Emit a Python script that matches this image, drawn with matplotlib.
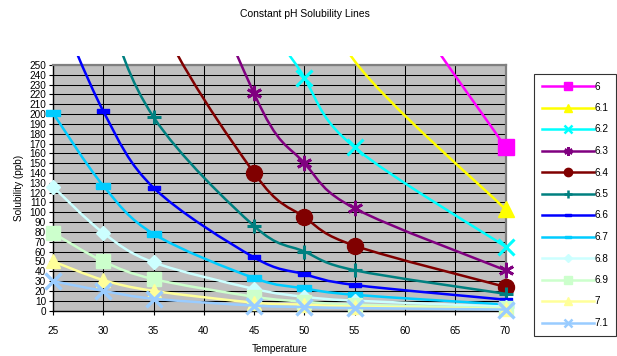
import numpy as np
import matplotlib
matplotlib.use("Agg")
import matplotlib.pyplot as plt
from matplotlib.path import Path
from matplotlib.patches import PathPatch, Rectangle
from matplotlib.lines import Line2D

plt.rcParams['font.family'] = ['Liberation Sans', 'DejaVu Sans']

temps = [25, 30, 35, 45, 50, 55, 70]
ph_labels = ["6", "6.1", "6.2", "6.3", "6.4", "6.5", "6.6", "6.7", "6.8", "6.9", "7", "7.1"]

# solubility (ppb); values above 250 are off the plot
sol_60 = [3200, 2000, 1250, 880, 590, 400, 166]
sol_61 = [2000, 1280, 780, 557, 376, 254, 103]
sol_62 = [2000, 1280, 780, 350, 237, 166, 65]
sol_63 = [1260, 810, 490, 221, 150, 104, 41]
sol_64 = [800, 510, 310, 140, 95, 66, 24]
sol_65 = [510, 320, 197, 86, 60, 41, 17]
sol_66 = [320, 203, 125, 54, 37, 26, 11]
sol_67 = [201, 127, 78, 33, 22.5, 16, 6]
sol_68 = [126, 79, 49, 22, 14, 10, 4]
sol_69 = [79, 50, 32, 14, 9, 6, 2.5]
sol_70 = [50, 31, 20, 8, 6, 4, 1.5]
sol_71 = [30, 20, 12, 5, 3.5, 2.5, 1]
series = [sol_60, sol_61, sol_62, sol_63, sol_64, sol_65,
          sol_66, sol_67, sol_68, sol_69, sol_70, sol_71]

colors = ["#FF00FF", "#FFFF00", "#00FFFF", "#800080", "#800000", "#008080",
          "#0000FF", "#00CCFF", "#CCFFFF", "#CCFFCC", "#FFFF99", "#99CCFF"]

bar = [(-1, -0.38), (1, -0.38), (1, 0.38), (-1, 0.38), (-1, -0.38)]
markers = ["s", "^", "x", (6, 2, 0), "o", "+", bar, bar, "D", "s", "^", "x"]
msizes = [12, 12, 11, 11, 11.5, 10, 9, 9.5, 7.3, 10, 10, 11]
mews = [1, 1, 2.2, 2, 1, 2.2, 1, 1, 1, 1, 1, 2.4]
leg_ms = [6, 6, 6, 6, 6, 6, 5, 5, 4.5, 6, 6, 6]


def smooth_path(x, y):
    # excel-style smoothed line as cubic bezier segments
    pts = np.column_stack([x, y]).astype(float)
    n = len(pts)
    verts = [pts[0]]
    codes = [Path.MOVETO]
    for i in range(n - 1):
        p0 = pts[max(i - 1, 0)]
        p1 = pts[i]
        p2 = pts[i + 1]
        p3 = pts[min(i + 2, n - 1)]
        c1 = p1 + (p2 - p0) / 6.0
        c2 = p2 - (p3 - p1) / 6.0
        verts += [c1, c2, p2]
        codes += [Path.CURVE4] * 3
    return Path(verts, codes)


fig = plt.figure(figsize=(6.17, 3.56), dpi=100)
ax = fig.add_axes([0.0859, 0.1278, 0.7334, 0.6896])
ax.set_facecolor("#C0C0C0")
ax.set_xlim(25, 70)
ax.set_ylim(0, 250)

clip = Rectangle((-0.02, -0.05), 1.04, 1.085, transform=ax.transAxes,
                 facecolor="none", edgecolor="none")

handles = []
for i, vals in enumerate(series):
    patch = PathPatch(smooth_path(temps, vals), facecolor="none",
                      edgecolor=colors[i], lw=1.8, zorder=3 + i * 0.01)
    ax.add_patch(patch)
    patch.set_clip_path(clip)
    xs = [t for t, v in zip(temps, vals) if v <= 250]
    ys = [v for v in vals if v <= 250]
    ax.plot(xs, ys, ls="none", marker=markers[i], ms=msizes[i],
            color=colors[i], mfc=colors[i], mec=colors[i], mew=mews[i],
            clip_on=False, zorder=3 + i * 0.01 + 0.005)
    handles.append(Line2D([], [], color=colors[i], lw=1.8, marker=markers[i],
                          ms=leg_ms[i], mew=min(mews[i], 1.8),
                          mfc=colors[i], mec=colors[i], label=ph_labels[i]))

ax.set_xticks(range(25, 71, 5))
ax.set_yticks(range(0, 251, 10))
ax.grid(True, color="black", lw=0.75)
ax.set_axisbelow(True)
ax.tick_params(axis="both", labelsize=7.2, direction="out", length=3,
               width=0.8, color="black", pad=2)
ax.tick_params(axis="x", pad=8)
for s in ["top", "right"]:
    ax.spines[s].set_color("#808080")
    ax.spines[s].set_linewidth(1.6)
for s in ["left", "bottom"]:
    ax.spines[s].set_color("black")
    ax.spines[s].set_linewidth(1)

ax.set_xlabel("Temperature", fontsize=7.2, labelpad=6)
ax.set_ylabel("Solubility (ppb)", fontsize=7.2, labelpad=4)
fig.text(0.495, 0.962, "Constant pH Solubility Lines", fontsize=7.5,
         ha="center", va="center")

leg = fig.legend(handles=handles, loc="upper left",
                 bbox_to_anchor=(534 / 617, 1 - 74 / 356),
                 fontsize=7.2, frameon=True, fancybox=False,
                 handlelength=5.2, handletextpad=0.1, labelspacing=1.15,
                 borderpad=0.75, borderaxespad=0)
leg.get_frame().set_edgecolor("black")
leg.get_frame().set_linewidth(0.8)

fig.savefig("out.png", dpi=100)
